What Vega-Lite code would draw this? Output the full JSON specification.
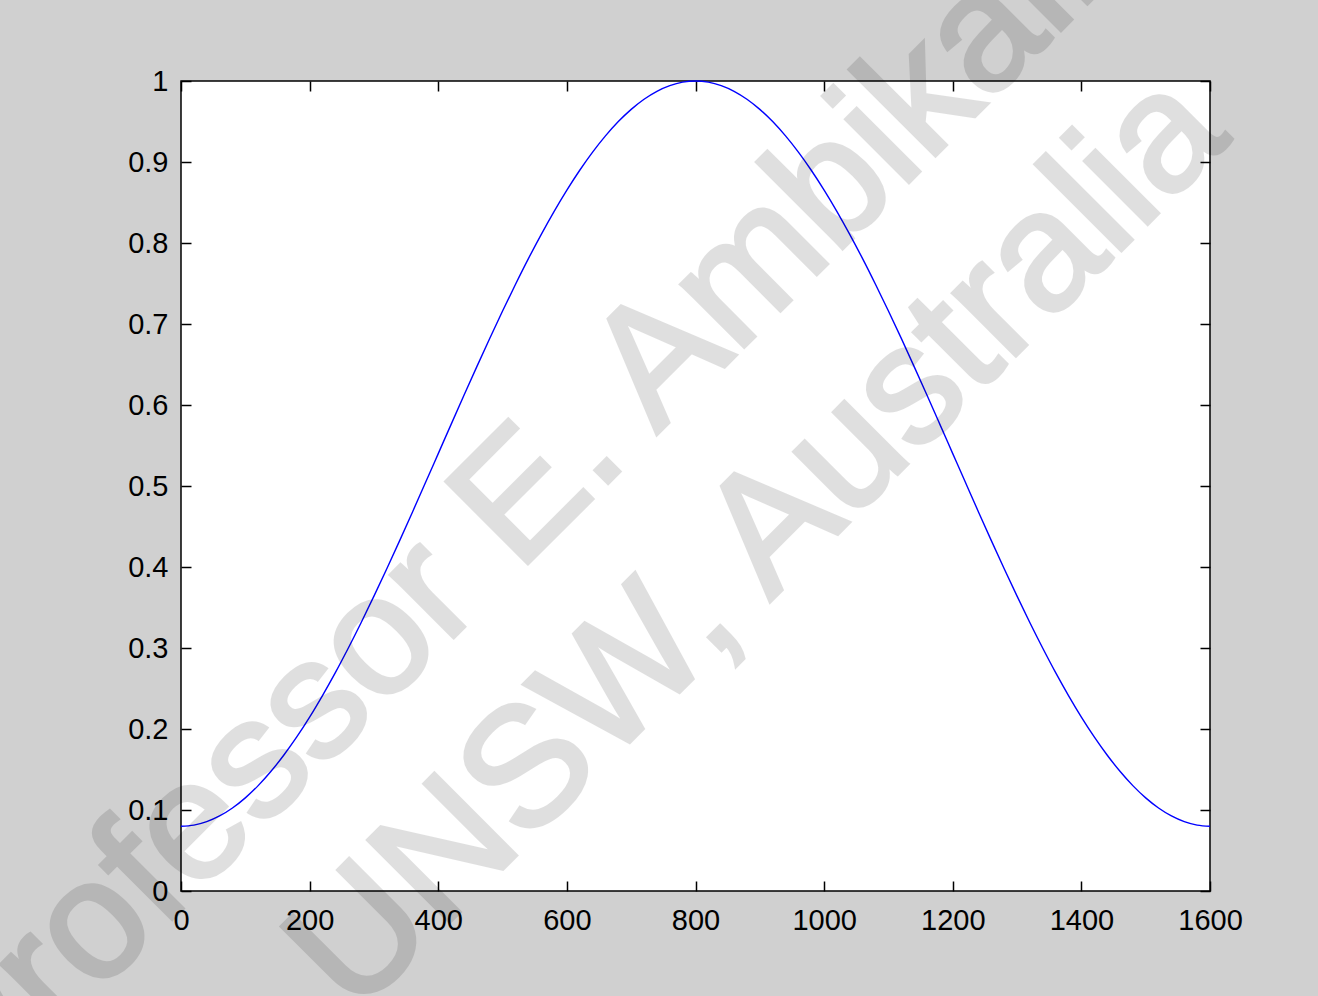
{
  "$schema": "https://vega.github.io/schema/vega-lite/v6.json",
  "width": 1029,
  "height": 810,
  "autosize": {"type": "none"},
  "padding": {"left": 181, "top": 81, "right": 108, "bottom": 105},
  "background": "#d0d0d0",
  "config": {
    "view": {"fill": "#ffffff", "stroke": "#000000", "strokeWidth": 1.5},
    "axis": {
      "domain": false,
      "grid": false,
      "tickColor": "#000000",
      "tickWidth": 1.5,
      "tickSize": -10,
      "labelFont": "Liberation Sans",
      "labelFontSize": 29,
      "labelColor": "#000000",
      "labelFlush": false,
      "labelOverlap": false,
      "title": null
    }
  },
  "datasets": {
    "window": [
      {"x": 0, "y": 0.08}, {"x": 20, "y": 0.0814}, {"x": 40, "y": 0.0857}, {"x": 60, "y": 0.0927},
      {"x": 80, "y": 0.1025}, {"x": 100, "y": 0.115}, {"x": 120, "y": 0.1301}, {"x": 140, "y": 0.1478},
      {"x": 160, "y": 0.1679}, {"x": 180, "y": 0.1902}, {"x": 200, "y": 0.2147}, {"x": 220, "y": 0.2413},
      {"x": 240, "y": 0.2696}, {"x": 260, "y": 0.2997}, {"x": 280, "y": 0.3312}, {"x": 300, "y": 0.364},
      {"x": 320, "y": 0.3979}, {"x": 340, "y": 0.4326}, {"x": 360, "y": 0.468}, {"x": 380, "y": 0.5039},
      {"x": 400, "y": 0.54}, {"x": 420, "y": 0.5761}, {"x": 440, "y": 0.612}, {"x": 460, "y": 0.6474},
      {"x": 480, "y": 0.6822}, {"x": 500, "y": 0.716}, {"x": 520, "y": 0.7488}, {"x": 540, "y": 0.7804},
      {"x": 560, "y": 0.8104}, {"x": 580, "y": 0.8388}, {"x": 600, "y": 0.8653}, {"x": 620, "y": 0.8898},
      {"x": 640, "y": 0.9122}, {"x": 660, "y": 0.9322}, {"x": 680, "y": 0.9499}, {"x": 700, "y": 0.965},
      {"x": 720, "y": 0.9775}, {"x": 740, "y": 0.9873}, {"x": 760, "y": 0.9943}, {"x": 780, "y": 0.9986},
      {"x": 800, "y": 1.0},
      {"x": 820, "y": 0.9986}, {"x": 840, "y": 0.9943}, {"x": 860, "y": 0.9873}, {"x": 880, "y": 0.9775},
      {"x": 900, "y": 0.965}, {"x": 920, "y": 0.9499}, {"x": 940, "y": 0.9322}, {"x": 960, "y": 0.9122},
      {"x": 980, "y": 0.8898}, {"x": 1000, "y": 0.8653}, {"x": 1020, "y": 0.8388}, {"x": 1040, "y": 0.8104},
      {"x": 1060, "y": 0.7804}, {"x": 1080, "y": 0.7488}, {"x": 1100, "y": 0.716}, {"x": 1120, "y": 0.6822},
      {"x": 1140, "y": 0.6474}, {"x": 1160, "y": 0.612}, {"x": 1180, "y": 0.5761}, {"x": 1200, "y": 0.54},
      {"x": 1220, "y": 0.5039}, {"x": 1240, "y": 0.468}, {"x": 1260, "y": 0.4326}, {"x": 1280, "y": 0.3979},
      {"x": 1300, "y": 0.364}, {"x": 1320, "y": 0.3312}, {"x": 1340, "y": 0.2997}, {"x": 1360, "y": 0.2696},
      {"x": 1380, "y": 0.2413}, {"x": 1400, "y": 0.2147}, {"x": 1420, "y": 0.1902}, {"x": 1440, "y": 0.1679},
      {"x": 1460, "y": 0.1478}, {"x": 1480, "y": 0.1301}, {"x": 1500, "y": 0.115}, {"x": 1520, "y": 0.1025},
      {"x": 1540, "y": 0.0927}, {"x": 1560, "y": 0.0857}, {"x": 1580, "y": 0.0814}, {"x": 1600, "y": 0.08}
    ],
    "watermark": [
      {"x": 745, "y": 0.568, "t": "Professor E. Ambikairajah"},
      {"x": 952, "y": 0.386, "t": "UNSW, Australia"}
    ]
  },
  "layer": [
    {
      "data": {"name": "window"},
      "mark": {"type": "line", "color": "#0000ff", "strokeWidth": 1.4, "interpolate": "monotone"},
      "encoding": {
        "x": {
          "field": "x", "type": "quantitative",
          "scale": {"domain": [0, 1600], "nice": false, "zero": false},
          "axis": {"orient": "bottom", "values": [0, 200, 400, 600, 800, 1000, 1200, 1400, 1600], "format": "d", "labelPadding": 25}
        },
        "y": {
          "field": "y", "type": "quantitative",
          "scale": {"domain": [0, 1], "nice": false, "zero": false},
          "axis": {"orient": "left", "values": [0, 0.1, 0.2, 0.3, 0.4, 0.5, 0.6, 0.7, 0.8, 0.9, 1], "format": "~g", "labelPadding": 23}
        }
      }
    },
    {
      "data": {"name": "watermark"},
      "mark": {"type": "text", "font": "Liberation Sans", "fontWeight": "normal", "fontSize": 168, "angle": 315, "align": "center", "baseline": "alphabetic", "fill": "#000000", "stroke": "#000000", "strokeWidth": 4, "opacity": 0.12},
      "encoding": {
        "x": {
          "field": "x", "type": "quantitative",
          "axis": {"orient": "top", "values": [0, 200, 400, 600, 800, 1000, 1200, 1400, 1600], "labels": false}
        },
        "y": {
          "field": "y", "type": "quantitative",
          "axis": {"orient": "right", "values": [0, 0.1, 0.2, 0.3, 0.4, 0.5, 0.6, 0.7, 0.8, 0.9, 1], "labels": false}
        },
        "text": {"field": "t", "type": "nominal"}
      }
    }
  ],
  "resolve": {"axis": {"x": "independent", "y": "independent"}}
}
